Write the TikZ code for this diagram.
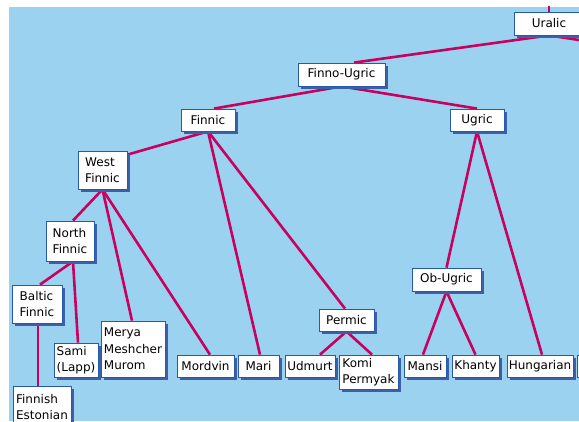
\documentclass[tikz,border=0pt]{standalone}
\usepackage{fontspec}
\setmainfont{DejaVu Sans}
\usetikzlibrary{shadows,calc}
\definecolor{skyb}{RGB}{154,210,240}
\definecolor{linkc}{RGB}{200,0,95}
\definecolor{boxborder}{RGB}{40,90,170}
\definecolor{shadowc}{RGB}{60,95,165}
\pgfdeclarelayer{bg}
\pgfdeclarelayer{lines}
\pgfsetlayers{bg,lines,main}
\begin{document}
\begin{tikzpicture}[x=1pt,y=-1pt,
  lbox/.style={draw=boxborder,line width=0.8pt,fill=white,inner sep=0pt,align=left,
    font=\fontsize{12}{16.5}\selectfont,text=black,
    drop shadow={shadow xshift=3pt,shadow yshift=-3pt,fill=shadowc,opacity=1}},
  sz/.style 2 args={minimum width=#1pt,minimum height=#2pt},
  link/.style={draw=linkc,line width=2.6pt}]
\useasboundingbox (0,0) rectangle (579,421);
\begin{pgfonlayer}{bg}
  \fill[white] (0,0) rectangle (579,421);
  \fill[skyb] (9,7) rectangle (579,421);
\end{pgfonlayer}

% nodes
\node[lbox,sz={70}{23}] (uralic) at (549,23.5) {Uralic};
\node[lbox,sz={87}{23}] (finnougric) at (341.5,74.5) {Finno-Ugric};
\node[lbox,sz={54}{22}] (finnic) at (208,120) {Finnic};
\node[lbox,sz={54}{22}] (ugric) at (477,120) {Ugric};
\node[lbox,sz={49}{38}] (westfinnic) at (102.5,170) {West\\Finnic};
\node[lbox,sz={48}{40}] (northfinnic) at (70,241) {North\\Finnic};
\node[lbox,sz={50}{38}] (balticfinnic) at (37,304) {Baltic\\Finnic};
\node[lbox,sz={58}{42}] (finnish) at (42,407) {Finnish\\Estonian};
\node[lbox,sz={44}{34}] (sami) at (76,360) {Sami\\(Lapp)};
\node[lbox,sz={64}{56}] (merya) at (133,349) {Merya\\Meshcher\\Murom};
\node[lbox,sz={57}{22}] (mordvin) at (205.5,366) {Mordvin};
\node[lbox,sz={41}{22}] (mari) at (258.5,366) {Mari};
\node[lbox,sz={50}{22}] (udmurt) at (310,366) {Udmurt};
\node[lbox,sz={59}{34}] (komi) at (368.5,372) {Komi\\Permyak};
\node[lbox,sz={55}{22}] (permic) at (346.5,320) {Permic};
\node[lbox,sz={69}{23}] (obugric) at (446.5,279.5) {Ob-Ugric};
\node[lbox,sz={42}{22}] (mansi) at (425,366) {Mansi};
\node[lbox,sz={47}{22}] (khanty) at (475.5,366) {Khanty};
\node[lbox,sz={66}{22}] (hungarian) at (540,366) {Hungarian};
\node[lbox,sz={26}{22}] (edgebox) at (590,366) {};

\coordinate (topend) at (549,6);
\coordinate (rightend) at (592,42);

% connectors
\begin{pgfonlayer}{lines}
\draw[link] (topend) -- (uralic.north);
\draw[link] (uralic.south) -- (rightend);
\draw[link] (uralic.south) -- ([xshift=12.5pt]finnougric.north);
\draw[link] (finnougric.south) -- ([xshift=6pt]finnic.north);
\draw[link] (finnougric.south) -- (ugric.north);
\draw[link] (finnic.south) -- ([xshift=-4pt,yshift=-5.2pt]westfinnic.north east);
\draw[link] (finnic.south) -- ([xshift=1.5pt]mari.north);
\draw[link] (finnic.south) -- ([xshift=-1.5pt]permic.north);
\draw[link] (westfinnic.south) -- ([xshift=3pt]northfinnic.north);
\draw[link] (westfinnic.south) -- ([xshift=-1pt]merya.north);
\draw[link] (westfinnic.south) -- ([xshift=4.5pt]mordvin.north);
\draw[link] ([xshift=3pt]northfinnic.south) -- ([xshift=3pt]balticfinnic.north);
\draw[link] ([xshift=3pt]northfinnic.south) -- ([xshift=2pt]sami.north);
\draw[link] ([xshift=1pt]balticfinnic.south) -- ([xshift=-4pt]finnish.north);
\draw[link] (permic.south) -- ([xshift=10pt]udmurt.north);
\draw[link] (permic.south) -- ([xshift=3.5pt]komi.north);
\draw[link] (ugric.south) -- (obugric.north);
\draw[link] (ugric.south) -- ([xshift=2pt]hungarian.north);
\draw[link] (obugric.south) -- ([xshift=-2pt]mansi.north);
\draw[link] (obugric.south) -- (khanty.north);
\end{pgfonlayer}
\end{tikzpicture}
\end{document}
